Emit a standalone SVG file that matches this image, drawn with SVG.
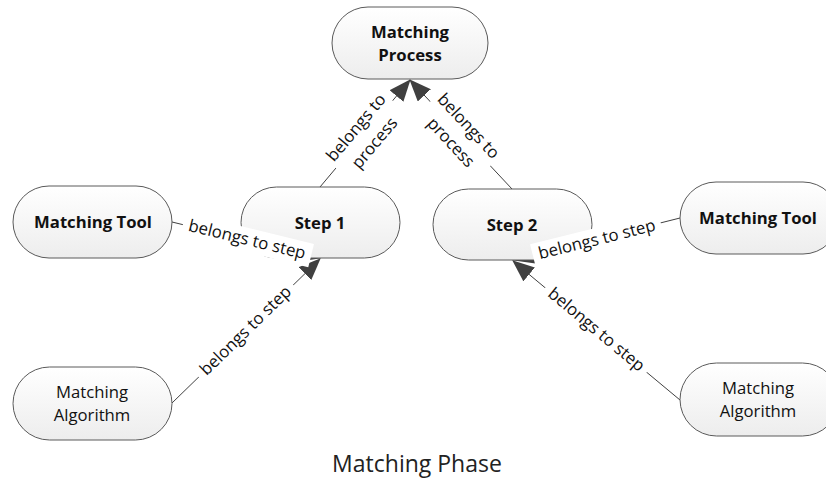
<svg xmlns="http://www.w3.org/2000/svg" width="826" height="484" viewBox="0 0 826 484">
  <defs>
    <linearGradient id="nodeFill" x1="0" y1="0" x2="0" y2="1">
      <stop offset="0" stop-color="#ffffff"/>
      <stop offset="1" stop-color="#ededed"/>
    </linearGradient>
    <marker id="arrow" markerUnits="userSpaceOnUse" markerWidth="22" markerHeight="18" viewBox="0 0 22 18" refX="21" refY="9" orient="auto">
      <path d="M0,0 L22,9 L0,18 Z" fill="#404040"/>
    </marker>
    <style>
      .node rect { fill: url(#nodeFill); stroke: #5a5a5a; stroke-width: 1; }
      .node text { font-family: "Open Sans", "Liberation Sans", sans-serif; font-size: 16.7px; fill: #111; text-anchor: middle; }
      .node text.bold { font-weight: bold; }
      .edge { stroke: #404040; stroke-width: 1; fill: none; marker-end: url(#arrow); }
      .label rect { fill: #ffffff; }
      .label text { font-family: "Open Sans", "Liberation Sans", sans-serif; font-size: 16.8px; fill: #111; text-anchor: middle; }
      .caption { font-family: "Open Sans", "Liberation Sans", sans-serif; font-size: 23px; fill: #222; text-anchor: middle; }
    </style>
  </defs>

  <rect width="826" height="484" fill="#ffffff"/>

  <!-- connectors -->
  <g id="connectors">
    <line class="edge" x1="320" y1="187" x2="410" y2="80"/>
    <line class="edge" x1="512" y1="189" x2="410" y2="80"/>
    <line class="edge" x1="172" y1="222" x2="320" y2="258"/>
    <line class="edge" x1="172" y1="403" x2="320" y2="259"/>
    <line class="edge" x1="680" y1="218" x2="513" y2="260"/>
    <line class="edge" x1="680" y1="400" x2="513" y2="261"/>
  </g>

  <!-- nodes -->
  <g id="matching-process" class="node">
    <rect x="332" y="7" width="156" height="72" rx="36"/>
    <text class="bold" x="410" y="38">Matching</text>
    <text class="bold" x="410" y="61">Process</text>
  </g>
  <g id="matching-tool-1" class="node">
    <rect x="13" y="186" width="159" height="72" rx="36"/>
    <text class="bold" x="93" y="228">Matching Tool</text>
  </g>
  <g id="step-1" class="node">
    <rect x="241" y="187" width="159" height="71" rx="35.5"/>
    <text class="bold" x="320" y="229">Step 1</text>
  </g>
  <g id="step-2" class="node">
    <rect x="433" y="189" width="159" height="71" rx="35.5"/>
    <text class="bold" x="512" y="231">Step 2</text>
  </g>
  <g id="matching-tool-2" class="node">
    <rect x="680" y="182" width="159" height="72" rx="36"/>
    <text class="bold" x="758" y="224">Matching Tool</text>
  </g>
  <g id="matching-algorithm-1" class="node">
    <rect x="13" y="367" width="159" height="73" rx="36.5"/>
    <text x="92" y="398">Matching</text>
    <text x="92" y="421">Algorithm</text>
  </g>
  <g id="matching-algorithm-2" class="node">
    <rect x="680" y="363" width="159" height="73" rx="36.5"/>
    <text x="758" y="394">Matching</text>
    <text x="758" y="417">Algorithm</text>
  </g>

  <!-- connector labels -->
  <g id="labels">
    <g class="label" transform="translate(365,135) rotate(-50)">
      <rect x="-44" y="-24" width="88" height="48"/>
      <text x="0" y="-6">belongs to</text>
      <text x="0" y="18">process</text>
    </g>
    <g class="label" transform="translate(460,134) rotate(47)">
      <rect x="-44" y="-24" width="88" height="48"/>
      <text x="0" y="-6">belongs to</text>
      <text x="0" y="18">process</text>
    </g>
    <g class="label" transform="translate(247,240) rotate(13.7)">
      <rect x="-66" y="-12" width="132" height="24"/>
      <text x="0" y="5">belongs to step</text>
    </g>
    <g class="label" transform="translate(246,331) rotate(-44.2)">
      <rect x="-66" y="-12" width="132" height="24"/>
      <text x="0" y="5">belongs to step</text>
    </g>
    <g class="label" transform="translate(597,240) rotate(-14)">
      <rect x="-66" y="-12" width="132" height="24"/>
      <text x="0" y="5">belongs to step</text>
    </g>
    <g class="label" transform="translate(596,330) rotate(39.8)">
      <rect x="-66" y="-12" width="132" height="24"/>
      <text x="0" y="5">belongs to step</text>
    </g>
  </g>

  <text class="caption" x="417" y="472">Matching Phase</text>
</svg>
